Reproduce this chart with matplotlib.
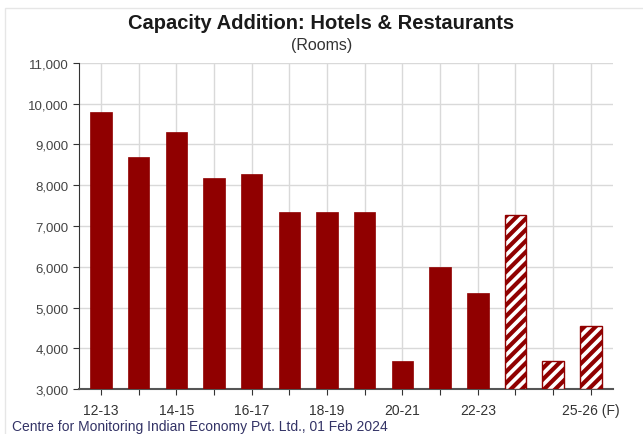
import numpy as np
import matplotlib.pyplot as plt
from matplotlib.patches import Rectangle

plt.rcParams['font.family'] = ['Liberation Sans', 'DejaVu Sans']
plt.rcParams['hatch.linewidth'] = 3.0

# financial years, last three are forecasts (hatched)
years = ['12-13', '13-14', '14-15', '15-16', '16-17', '17-18', '18-19',
         '19-20', '20-21', '21-22', '22-23', '23-24', '24-25 (F)', '25-26 (F)']
rooms = [9800, 8700, 9300, 8170, 8280, 7340, 7340,
         7355, 3690, 6000, 5360, 7260, 3695, 4555]
forecast = [False] * 11 + [True] * 3
shown_labels = ['12-13', '', '14-15', '', '16-17', '', '18-19',
                '', '20-21', '', '22-23', '', '', '25-26 (F)']
yticks = list(range(3000, 11001, 1000))

bar_color = '#900000'

fig = plt.figure(figsize=(6.43, 4.35), dpi=100)
ax = fig.add_axes([0.1229, 0.1034, 0.830, 0.7496])

x = np.arange(len(years))
for xi, val, fc in zip(x, rooms, forecast):
    if fc:
        ax.bar(xi, val - 3000, bottom=3000, width=0.57, color='white',
               edgecolor=bar_color, hatch='///', linewidth=1.0, zorder=3)
    else:
        ax.bar(xi, val - 3000, bottom=3000, width=0.57, color=bar_color,
               edgecolor=bar_color, linewidth=0.5, zorder=3)

ax.set_xlim(-0.58, len(years) - 1 + 0.58)
ax.set_ylim(3000, 11000)
ax.set_xticks(x)
ax.set_xticklabels(shown_labels, fontsize=10, color='#333333')
ax.set_yticks(yticks)
ax.set_yticklabels([f'{v:,}' for v in yticks], fontsize=9.5, color='#444444')

ax.grid(True, color='#d9d9d9', linewidth=1.0, zorder=0)
ax.set_axisbelow(True)
for side in ['top', 'right']:
    ax.spines[side].set_visible(False)
ax.spines['left'].set_color('#333333')
ax.spines['bottom'].set_color('#555555')
ax.spines['bottom'].set_linewidth(1.5)
ax.tick_params(axis='both', length=4, color='#333333')
ax.tick_params(axis='x', pad=6)

fig.text(0.50, 1 - 29 / 435, 'Capacity Addition: Hotels & Restaurants',
         ha='center', va='baseline', fontsize=14.5, fontweight='bold',
         color='#1a1a1a')
fig.text(0.50, 1 - 50 / 435, '(Rooms)', ha='center', va='baseline',
         fontsize=11.5, color='#333333')
# footer sits right at the bottom edge (slightly cut in the original)
fig.text(0.018, 0.002,
         'Centre for Monitoring Indian Economy Pvt. Ltd., 01 Feb 2024',
         ha='left', va='bottom', fontsize=10, color='#333366')

# light outer frame of the chart box
fig.patches.append(Rectangle((0.008, -0.02), 1.2, 1.0, transform=fig.transFigure,
                             fill=False, edgecolor='#e6e6e6', linewidth=1.0))

fig.savefig('out.png', dpi=100)
